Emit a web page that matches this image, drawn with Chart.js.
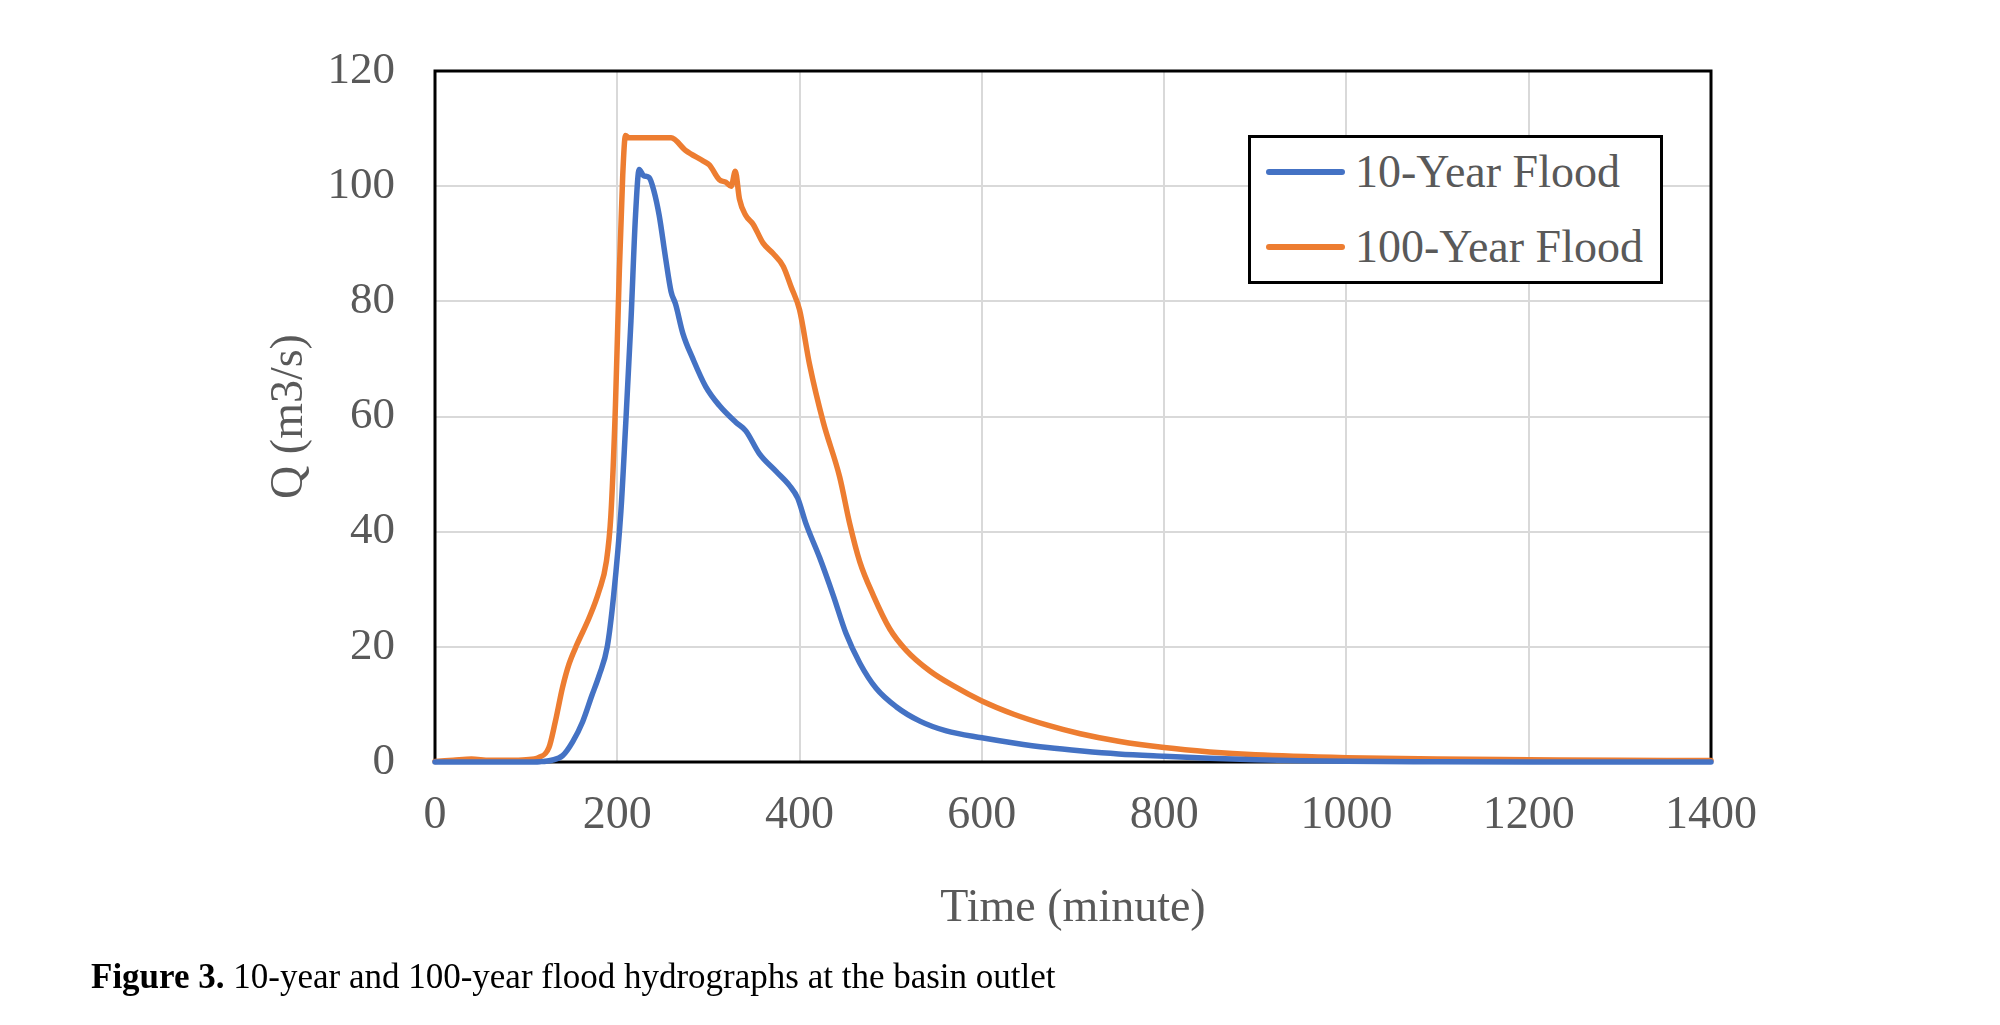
<!DOCTYPE html>
<html>
<head>
<meta charset="utf-8">
<title>Flood hydrographs</title>
<script src="https://cdn.jsdelivr.net/npm/chart.js@4/dist/chart.umd.min.js"></script>
<style>
  html, body { margin: 0; padding: 0; background: #fff; }
  #wrap { position: relative; width: 2000px; height: 1025px; overflow: hidden; }
  #chart { position: absolute; left: 0; top: 0; }
  #legend {
    position: absolute; left: 1248px; top: 135px; width: 409px; height: 143px;
    border: 3px solid #000; background: #fff;
    font-family: "Liberation Serif", serif; font-size: 46px; color: #595959;
  }
  .item { position: absolute; left: 0; height: 60px; line-height: 60px; white-space: nowrap; }
  .item .swatch { position: absolute; left: 15px; top: 27px; width: 79px; height: 6px; border-radius: 3px; }
  .item span.txt { position: absolute; left: 104px; top: 0; }
  #caption {
    position: absolute; left: 91px; top: 957px;
    font-family: "Liberation Serif", serif; font-size: 35px; color: #000; white-space: nowrap;
  }
</style>
</head>
<body>
<div id="wrap">
  <canvas id="chart" width="2000" height="1025"></canvas>
  <div id="legend"></div>
  <div id="caption"><b>Figure 3.</b> 10-year and 100-year flood hydrographs at the basin outlet</div>
</div>
<script>
const seriesNames = ["10-Year Flood", "100-Year Flood"];
const seriesColors = ["#4472C4", "#ED7D31"];

// 10-year flood, time (minute) and Q (m3/s)
const time10 = [0, 50, 100, 115, 128, 140, 151, 162, 172, 180, 189, 196, 204, 209, 215, 220, 224, 229, 235, 240,
  246, 253, 259, 264, 272, 283, 297, 312, 330, 341, 356, 374, 389, 398, 407, 422, 437, 451, 466, 484,
  506, 532, 561, 600, 635, 672, 710, 750, 800, 850, 900, 950, 1000, 1100, 1200, 1300, 1400];
const flow10 = [0, 0, 0, 0.05, 0.3, 1.1, 3.5, 7, 11.5, 15, 20, 28.9, 43.6, 58, 76.6, 94.9, 102.9, 101.8, 101.5, 99.3,
  94.9, 87.5, 81.7, 79.5, 74.4, 70, 65.2, 61.9, 59, 57.5, 53.5, 50.5, 48, 45.8, 41.4, 35.5, 28.9, 22.3, 17.2, 12.8,
  9.6, 7.1, 5.4, 4.2, 3.3, 2.5, 1.9, 1.4, 1.0, 0.65, 0.4, 0.22, 0.12, 0.05, 0.02, 0.01, 0];

// 100-year flood
const time100 = [0, 20, 40, 60, 80, 100, 114, 125, 132, 140, 147, 156, 169, 180, 188, 193, 198, 202, 206, 209,
  213, 259, 275, 294, 301, 312, 319, 325, 329.5, 334, 341, 349, 360, 371, 382, 391, 400, 411, 426, 444,
  455, 466, 481, 499, 517, 543, 569, 600, 635, 672, 708, 750, 800, 850, 900, 1000, 1100, 1200, 1300, 1400];
const flow100 = [0.1, 0.3, 0.5, 0.3, 0.3, 0.4, 0.8, 2.5, 7, 13, 17, 20.5, 25, 29.7, 34.8, 42.9, 62, 84, 102, 108.8,
  108.4, 108.4, 106.2, 104.4, 103.7, 101.1, 100.7, 100, 102.6, 97.8, 94.9, 93.4, 90.1, 88.3, 86.1, 82.4, 78.5, 69, 59, 49.5,
  41.4, 34.8, 28.9, 23.1, 19.4, 15.8, 13.2, 10.6, 8.3, 6.4, 4.9, 3.6, 2.5, 1.75, 1.25, 0.75, 0.5, 0.4, 0.3, 0.25];

const xTitle = "Time (minute)";
const yTitle = "Q (m3/s)";

function toPoints(xs, ys) {
  return xs.map((x, i) => ({ x: x, y: ys[i] }));
}

// black frame round the plot area, drawn under the lines
const plotFrame = {
  id: "plotFrame",
  beforeDatasetsDraw(chart) {
    const { ctx, chartArea: a } = chart;
    ctx.save();
    ctx.strokeStyle = "#000";
    ctx.lineWidth = 3;
    ctx.strokeRect(a.left, a.top, a.right - a.left, a.bottom - a.top);
    ctx.restore();
  }
};

Chart.defaults.font.family = "'Liberation Serif', 'Times New Roman', serif";
Chart.defaults.color = "#595959";

const chart = new Chart(document.getElementById("chart"), {
  type: "line",
  data: {
    datasets: [
      { label: seriesNames[0], data: toPoints(time10, flow10), borderColor: seriesColors[0] },
      { label: seriesNames[1], data: toPoints(time100, flow100), borderColor: seriesColors[1] }
    ]
  },
  options: {
    responsive: false,
    devicePixelRatio: 1,
    animation: false,
    layout: { padding: { left: 250, top: 71, right: 289, bottom: 88 } },
    elements: {
      line: { borderWidth: 5.5, cubicInterpolationMode: "monotone", fill: false, borderCapStyle: "round", borderJoinStyle: "round" },
      point: { radius: 0 }
    },
    datasets: { line: { clip: 6 } },
    plugins: { legend: { display: false }, tooltip: { enabled: false } },
    scales: {
      x: {
        type: "linear", min: 0, max: 1400,
        afterFit(scale) { scale.height = 175; },
        ticks: { stepSize: 200, padding: 26, font: { size: 46 }, color: "#595959", callback: v => String(v) },
        grid: { color: "#d9d9d9", lineWidth: 2, drawTicks: false },
        border: { display: false },
        title: { display: true, text: xTitle, font: { size: 46 }, color: "#595959", padding: { top: 0, bottom: 0 } }
      },
      y: {
        min: 0, max: 120,
        afterFit(scale) { scale.width = 185; },
        ticks: { stepSize: 20, padding: 40, font: { size: 45 }, color: "#595959" },
        grid: { color: "#d9d9d9", lineWidth: 2, drawTicks: false },
        border: { display: false },
        title: { display: true, text: yTitle, font: { size: 46 }, color: "#595959", padding: { top: 12, bottom: 0 } }
      }
    }
  },
  plugins: [plotFrame]
});

// legend box built from the chart's datasets
const legendEl = document.getElementById("legend");
chart.data.datasets.forEach((ds, i) => {
  const row = document.createElement("div");
  row.className = "item";
  row.style.top = (4 + i * 75) + "px";
  row.innerHTML = `<div class="swatch" style="background:${ds.borderColor}"></div><span class="txt">${ds.label}</span>`;
  legendEl.appendChild(row);
});
</script>
</body>
</html>
